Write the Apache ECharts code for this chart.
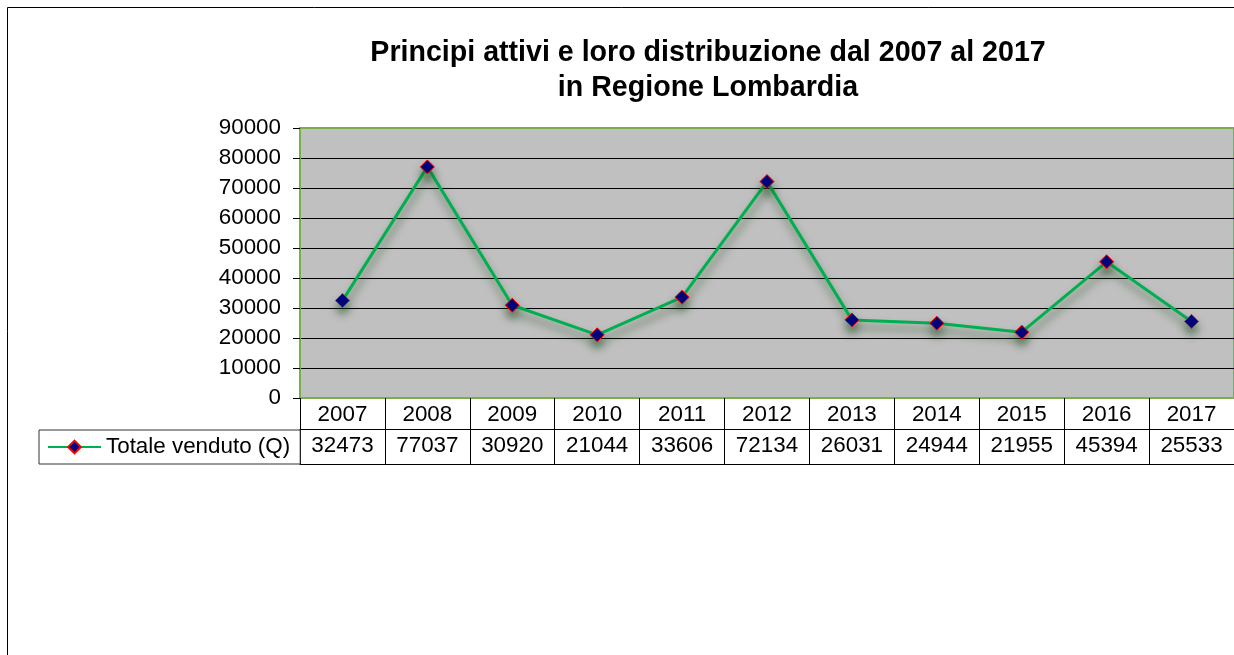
<!DOCTYPE html>
<html>
<head>
<meta charset="utf-8">
<script src="https://cdn.jsdelivr.net/npm/echarts@6/dist/echarts.min.js"></script>
<style>
  html, body { margin: 0; padding: 0; background: #fff; }
  #chart { width: 1234px; height: 655px; }
</style>
</head>
<body>
<div id="chart"></div>
<script>
// dati
var years = ['2007', '2008', '2009', '2010', '2011', '2012', '2013', '2014', '2015', '2016', '2017'];
var venduto = [32473, 77037, 30920, 21044, 33606, 72134, 26031, 24944, 21955, 45394, 25533];
var seriesName = 'Totale venduto (Q)';
var titleLines = ['Principi attivi e loro distribuzione dal 2007 al 2017', 'in Regione Lombardia'];

var FONT = 'Arial, "Liberation Sans", sans-serif';
var GREEN_AXIS = '#77b047';

var myChart = echarts.init(document.getElementById('chart'), null, { renderer: 'canvas' });

var option = {
  backgroundColor: '#ffffff',
  animation: false,
  textStyle: { fontFamily: FONT },
  graphic: [
    { // cornice esterna
      type: 'rect',
      shape: { x: 7.5, y: 7.5, width: 1400, height: 800 },
      style: { fill: 'none', stroke: '#000', lineWidth: 1 }
    },
    { // titolo
      type: 'text',
      x: 708, y: 36,
      style: {
        text: titleLines.join('\n'),
        textAlign: 'center',
        textVerticalAlign: 'top',
        font: 'bold 28.6px ' + FONT,
        lineHeight: 35,
        fill: '#000'
      }
    }
  ],
  legend: {
    show: true,
    left: 39, top: 430,
    orient: 'horizontal',
    padding: [6, 10, 6, 8],
    borderColor: '#333',
    borderWidth: 1,
    itemWidth: 53,
    itemHeight: 16,
    textStyle: { fontSize: 22.4, color: '#000', fontFamily: FONT, lineHeight: 22 },
    data: [seriesName]
  },
  grid: {
    left: 300, top: 128, width: 944, height: 270,
    show: true,
    backgroundColor: '#c0c0c0',
    borderColor: GREEN_AXIS,
    borderWidth: 2
  },
  xAxis: [
    { // riga anni
      type: 'category',
      data: years,
      position: 'bottom',
      boundaryGap: true,
      axisLine: { show: false },
      axisTick: { show: true, interval: 0, length: 66, lineStyle: { color: '#000', width: 1 } },
      axisLabel: { interval: 0, fontSize: 22.4, color: '#000', margin: 5, lineHeight: 24, fontFamily: FONT },
      splitLine: { show: false }
    },
    { // riga valori
      type: 'category',
      data: venduto.map(String),
      position: 'bottom',
      offset: 31,
      axisLine: { show: true, lineStyle: { color: '#000', width: 1 } },
      axisTick: { show: false },
      axisLabel: { interval: 0, fontSize: 22.4, color: '#000', margin: 5, lineHeight: 24, fontFamily: FONT },
      splitLine: { show: false }
    },
    { // linea di chiusura tabella
      type: 'category',
      data: years,
      position: 'bottom',
      offset: 66,
      axisLine: { show: true, lineStyle: { color: '#000', width: 1 } },
      axisTick: { show: false },
      axisLabel: { show: false },
      splitLine: { show: false }
    }
  ],
  yAxis: {
    type: 'value',
    min: 0, max: 90000, interval: 10000,
    axisLine: { show: true, lineStyle: { color: GREEN_AXIS, width: 2 } },
    axisTick: { show: true, length: 7, lineStyle: { color: '#000', width: 1 } },
    axisLabel: {
      fontSize: 22.4, color: '#000', margin: 19, fontFamily: FONT,
      formatter: function (v) { return String(v); }
    },
    splitLine: { show: true, showMinLine: false, showMaxLine: false, lineStyle: { color: '#000', width: 1 } }
  },
  series: [
    {
      name: seriesName,
      type: 'line',
      xAxisIndex: 0,
      data: venduto,
      symbol: 'diamond',
      symbolSize: 14,
      lineStyle: {
        color: '#00b050', width: 3,
        shadowColor: 'rgba(20,70,20,0.6)', shadowBlur: 9, shadowOffsetX: 1, shadowOffsetY: 7
      },
      itemStyle: {
        color: '#000080', borderColor: '#ff0000', borderWidth: 1,
        shadowColor: 'rgba(20,70,20,0.55)', shadowBlur: 9, shadowOffsetY: 7
      },
      z: 5
    }
  ]
};

myChart.setOption(option);
</script>
</body>
</html>
